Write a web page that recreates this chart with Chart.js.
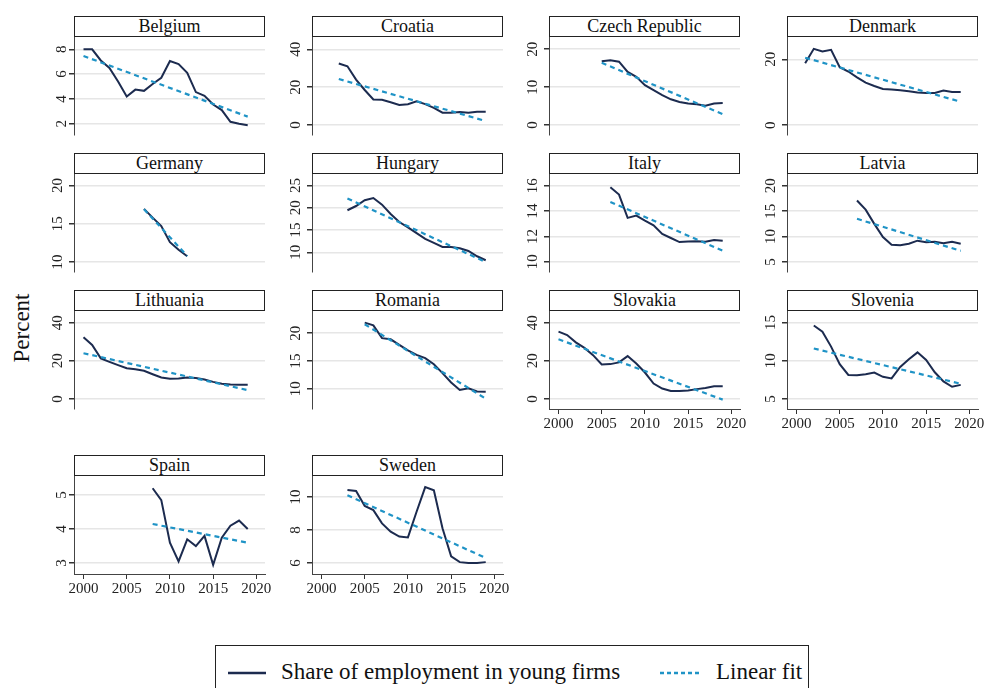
<!DOCTYPE html>
<html>
<head>
<meta charset="utf-8">
<script src="https://cdn.jsdelivr.net/npm/chart.js@4.4.1/dist/chart.umd.min.js"></script>
<style>
body { margin: 0; background: #fff; font-family: "Liberation Serif", serif; }
#wrap { position: relative; width: 986px; height: 688px; overflow: hidden; background: #fff; }
.ttl { position: absolute; height: 21px; border: 1px solid #222; box-sizing: border-box; text-align: center;
       font-size: 18px; line-height: 19px; color: #111; background: #fff; }
.cv { position: absolute; }
#ylab { position: absolute; left: 22px; top: 328px; transform: translate(-50%, -50%) rotate(-90deg);
        font-size: 23px; color: #111; white-space: nowrap; }
#legend { position: absolute; left: 215px; top: 645px; width: 594px; height: 60px; border: 1px solid #222;
          box-sizing: border-box; font-size: 23px; color: #111; }
#legend span { position: absolute; top: 13px; white-space: nowrap; }
#legend svg { position: absolute; top: 25px; }
</style>
</head>
<body>
<div id="wrap">
  <div id="ylab">Percent</div>
  <div id="legend">
    <svg style="left:12px" width="40" height="4"><line x1="0" y1="2" x2="38" y2="2" stroke="#1c2b4f" stroke-width="2.5"/></svg>
    <span style="left:65px">Share of employment in young firms</span>
    <svg style="left:444px" width="42" height="4"><line x1="0" y1="2" x2="41" y2="2" stroke="#1f93c6" stroke-width="2.5" stroke-dasharray="4,3"/></svg>
    <span style="left:500px">Linear fit</span>
  </div>
</div>
<script>
const countries = ['Belgium', 'Croatia', 'Czech Republic', 'Denmark', 'Germany', 'Hungary', 'Italy',
                   'Latvia', 'Lithuania', 'Romania', 'Slovakia', 'Slovenia', 'Spain', 'Sweden'];
const firstYear = [2000, 2002, 2005, 2001, 2007, 2003, 2006, 2007, 2000, 2005, 2000, 2002, 2008, 2003];

// share of employment in young firms, one value per year from firstYear on
const belgium = [8.0, 8.0, 7.1, 6.5, 5.4, 4.2, 4.75, 4.65, 5.2, 5.7, 7.05, 6.8, 6.1, 4.55, 4.25, 3.55, 3.1, 2.15, 2.0, 1.88];
const croatia = [32.5, 31.0, 24.0, 18.5, 13.5, 13.3, 12.0, 10.6, 11.0, 12.5, 11.0, 9.0, 6.5, 6.5, 6.8, 6.4, 7.0, 7.0];
const czech = [16.8, 17.1, 16.7, 14.0, 12.7, 10.5, 9.2, 7.9, 6.8, 6.1, 5.7, 5.5, 5.1, 5.7, 5.8];
const denmark = [18.8, 23.2, 22.4, 22.9, 17.6, 16.3, 14.5, 12.9, 11.9, 11.0, 10.8, 10.6, 10.3, 9.9, 9.8, 9.8, 10.5, 10.1, 10.1];
const germany = [16.95, 15.8, 14.7, 12.6, 11.6, 10.75];
const hungary = [19.45, 20.4, 21.7, 22.2, 20.7, 18.6, 16.8, 15.6, 14.3, 13.0, 12.1, 11.2, 11.2, 10.9, 10.3, 9.1, 8.2];
const italy = [15.87, 15.3, 13.46, 13.64, 13.25, 12.88, 12.2, 11.88, 11.56, 11.6, 11.62, 11.58, 11.72, 11.66];
const latvia = [17.1, 15.3, 12.5, 9.9, 8.4, 8.3, 8.6, 9.2, 8.9, 9.0, 8.7, 9.0, 8.6];
const lithuania = [32.3, 28.3, 21.3, 19.5, 17.8, 16.1, 15.6, 14.8, 13.0, 11.3, 10.6, 10.8, 11.3, 11.0, 10.2, 9.0, 8.0, 7.6, 7.5, 7.5];
const romania = [21.9, 21.4, 19.1, 18.9, 17.9, 16.9, 16.1, 15.5, 14.4, 12.8, 11.1, 9.75, 10.05, 9.5, 9.45];
const slovakia = [35.3, 33.5, 29.7, 26.8, 23.0, 18.1, 18.3, 19.2, 22.5, 18.6, 13.9, 8.1, 5.5, 4.2, 4.2, 4.5, 5.2, 5.8, 6.7, 6.7];
const slovenia = [14.6, 13.8, 11.85, 9.55, 8.15, 8.1, 8.25, 8.45, 7.9, 7.7, 9.2, 10.2, 11.1, 10.1, 8.5, 7.3, 6.6, 6.85];
const spain = [5.2, 4.85, 3.6, 3.05, 3.7, 3.5, 3.8, 2.95, 3.75, 4.1, 4.25, 4.0];
const sweden = [10.42, 10.36, 9.45, 9.2, 8.4, 7.9, 7.6, 7.55, 9.1, 10.6, 10.4, 8.1, 6.4, 6.05, 6.0, 6.0, 6.05];
const series = [belgium, croatia, czech, denmark, germany, hungary, italy, latvia, lithuania, romania, slovakia, slovenia, spain, sweden];

// linear fit: value at first and last year
const fitEnds = [[7.46, 2.57], [24.3, 2.1], [16.4, 2.9], [20.5, 7.1], [16.9, 10.8], [22.1, 7.8], [14.72, 10.88],
                 [13.5, 7.2], [24.0, 4.7], [21.6, 8.2], [31.3, -0.3], [11.6, 7.0], [4.15, 3.6], [10.1, 6.3]];

const yTicks = [[2, 4, 6, 8], [0, 20, 40], [0, 10, 20], [0, 20], [10, 15, 20], [10, 15, 20, 25], [10, 12, 14, 16],
                [5, 10, 15, 20], [0, 20, 40], [10, 15, 20], [0, 20, 40], [5, 10, 15], [3, 4, 5], [6, 8, 10]];
const yRange = [[1.09, 8.99], [-5.3, 46.5], [-2.6, 23.2], [-3.0, 26.8], [8.7, 21.5], [5.56, 27.6], [9.2, 16.92],
                [3.04, 22.3], [-5.2, 46.1], [6.33, 24.0], [-5.2, 46.1], [3.7, 16.5], [2.68, 5.56], [5.33, 11.27]];
const xTicks = [2000, 2005, 2010, 2015, 2020];
const xRange = [1998.9, 2021.0];
const withXAxis = ['Slovakia', 'Slovenia', 'Spain', 'Sweden'];

const colLeft = [74, 312, 549, 787];
const rowTop = [37, 174, 311, 476];
const plotW = 191, plotH = 98;
const AXW = 40, PADT = 8, PADR = 26, XH = 30, PADB = 4;

const wrap = document.getElementById('wrap');
const tickFont = { family: 'Liberation Serif', size: 15 };

countries.forEach((name, i) => {
    const row = Math.floor(i / 4), col = i % 4;
    const left = colLeft[col], top = rowTop[row];
    const showX = withXAxis.includes(name);

    const ttl = document.createElement('div');
    ttl.className = 'ttl';
    ttl.style.left = left + 'px';
    ttl.style.top = (top - 21) + 'px';
    ttl.style.width = plotW + 'px';
    ttl.textContent = name;

    const cv = document.createElement('canvas');
    cv.className = 'cv';
    cv.width = AXW + plotW + PADR;
    cv.height = PADT + plotH + XH + PADB;
    cv.style.left = (left - AXW) + 'px';
    cv.style.top = (top - PADT) + 'px';
    wrap.appendChild(cv);
    wrap.appendChild(ttl);

    const vals = series[i];
    const pts = vals.map((v, k) => ({ x: firstYear[i] + k, y: v }));
    const lastYear = firstYear[i] + vals.length - 1;
    const fit = [{ x: firstYear[i], y: fitEnds[i][0] }, { x: lastYear, y: fitEnds[i][1] }];

    new Chart(cv.getContext('2d'), {
        type: 'line',
        data: {
            datasets: [
                { label: 'Linear fit', data: fit, borderColor: '#1f93c6', borderWidth: 2.2,
                  borderDash: [5, 4], pointRadius: 0, fill: false },
                { label: 'Share of employment in young firms', data: pts, borderColor: '#1c2b4f',
                  borderWidth: 2, pointRadius: 0, fill: false, tension: 0 }
            ]
        },
        options: {
            responsive: false,
            animation: false,
            devicePixelRatio: 1,
            layout: { padding: { left: 0, top: PADT, right: PADR, bottom: PADB } },
            plugins: { legend: { display: false }, tooltip: { enabled: false } },
            scales: {
                x: {
                    type: 'linear', min: xRange[0], max: xRange[1],
                    afterBuildTicks: s => { s.ticks = xTicks.map(v => ({ value: v })); },
                    afterFit: s => { s.height = XH; s.paddingLeft = 0; s.paddingRight = 0; },
                    grid: { display: showX, drawOnChartArea: false, tickColor: '#333', tickLength: 5 },
                    border: { display: showX, color: '#444', width: 1 },
                    ticks: { display: showX, color: '#222', font: tickFont, padding: 1,
                             maxRotation: 0, autoSkip: false, callback: v => String(v) }
                },
                y: {
                    min: yRange[i][0], max: yRange[i][1],
                    afterBuildTicks: s => { s.ticks = yTicks[i].map(v => ({ value: v })); },
                    afterFit: s => { s.width = AXW; s.paddingTop = 0; s.paddingBottom = 0; },
                    grid: { color: '#e6e6e6', lineWidth: 1.5, tickColor: '#333', tickLength: 5 },
                    border: { color: '#444', width: 1 },
                    ticks: { color: '#222', font: tickFont, padding: 3, minRotation: 90, maxRotation: 90,
                             crossAlign: 'center', autoSkip: false, callback: v => String(v) }
                }
            }
        }
    });
});
</script>
</body>
</html>
